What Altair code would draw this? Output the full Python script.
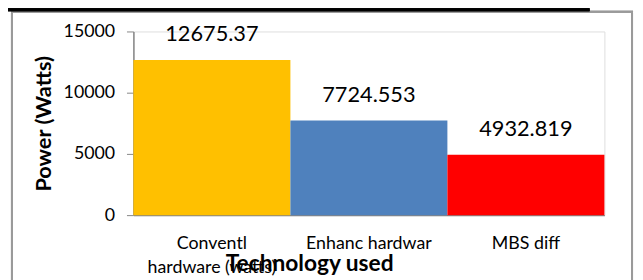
import altair as alt
import pandas as pd

categories = ["Conventl|hardware (watts)", "Enhanc hardwar", "MBS diff"]
values = [12675.37, 7724.553, 4932.819]
labels = ["12675.37", "7724.553", "4932.819"]
colors = ["#FFC000", "#4F81BD", "#FF0000"]

df = pd.DataFrame({"cat": categories, "val": values, "lab": labels})

FONT = "Lato"

x_enc = alt.X(
    "cat:N",
    sort=categories,
    scale=alt.Scale(paddingInner=0, paddingOuter=0),
    axis=alt.Axis(
        title="Technology used",
        labelAngle=0,
        labelExpr="split(datum.label, '|')",
        labelFont=FONT,
        labelFontSize=18,
        labelColor="#000000",
        labelLineHeight=24,
        labelPadding=20,
        ticks=False,
        domainColor="#868686",
        domainWidth=1.5,
        titleFont=FONT,
        titleFontSize=23,
        titleFontWeight="bold",
        titleColor="#000000",
        titleAlign="center",
        titleAnchor="start",
        titleX=178,
        titleY=56,
        titleBaseline="alphabetic",
    ),
)

y_enc = alt.Y(
    "val:Q",
    scale=alt.Scale(domain=[0, 15000], nice=False),
    axis=alt.Axis(
        title="Power (Watts)",
        values=[0, 5000, 10000, 15000],
        format="d",
        grid=False,
        labelFont=FONT,
        labelFontSize=18,
        labelColor="#000000",
        labelPadding=12,
        tickSize=7,
        tickColor="#868686",
        domainColor="#868686",
        domainWidth=1.5,
        titleFont=FONT,
        titleFontSize=22,
        titleFontWeight="bold",
        titleColor="#000000",
        titlePadding=8,
    ),
)

base = alt.Chart(df)

bars = base.mark_bar().encode(
    x=x_enc,
    y=y_enc,
    color=alt.Color("cat:N", scale=alt.Scale(domain=categories, range=colors), legend=None),
)

text = base.mark_text(font=FONT, fontSize=22, baseline="alphabetic", dy=-19, color="#000000").encode(
    x=alt.X("cat:N", sort=categories),
    y=alt.Y("val:Q"),
    text="lab:N",
)

border = alt.Chart(df).mark_rect(fill=None, stroke="#9a9a9a", strokeWidth=2).encode(
    x=alt.value(-123), x2=alt.value(505), y=alt.value(-20), y2=alt.value(300)
)

topline = alt.Chart(df).mark_rule(color="#000000", strokeWidth=3).encode(
    x=alt.value(-130), x2=alt.value(462), y=alt.value(-22)
)

chart = alt.layer(bars, text, border, topline).properties(
    width=477,
    height=186,
    autosize=alt.AutoSizeParams(type="none"),
    padding={"left": 127, "top": 22, "right": 31, "bottom": 70},
).configure_view(stroke=None).configure(background="#ffffff")

chart.save("out.html", embed_options={"renderer": "svg", "actions": False})
